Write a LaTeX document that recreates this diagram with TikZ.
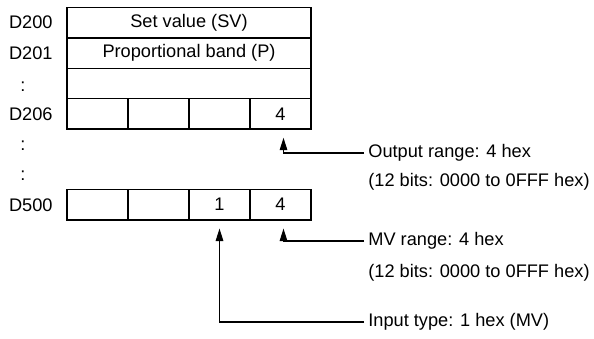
\documentclass[tikz,border=0pt]{standalone}
\usepackage{fontspec}
\setmainfont{Liberation Sans}
\usetikzlibrary{arrows.meta}
\begin{document}
\begin{tikzpicture}[x=0.5pt,y=0.5pt,font=\fontsize{9.1pt}{11pt}\selectfont,every node/.style={inner sep=2pt},
wide/.style={draw,line width=0.7pt,minimum width=122pt,minimum height=15.2pt,inner sep=0pt},
cell/.style={draw,line width=0.7pt,minimum width=30.5pt,minimum height=15.2pt,inner sep=0pt},
lbl/.style={anchor=east},txt/.style={anchor=west},
arr/.style={-{Triangle[length=6.2pt,width=3.8pt]},line width=0.55pt}]
\useasboundingbox (0,0) rectangle (594,338);
\node[wide] (sv) at (189,315.3) {Set value (SV)}; \node[wide] (pb) at (189,284.9) {Proportional band (P)}; \node[wide] (em) at (189,254.5) {};
\node[cell] (c1) at (97.5,224.1) {}; \node[cell] (c2) at (158.5,224.1) {}; \node[cell] (c3) at (219.5,224.1) {}; \node[cell] (c4) at (280.5,224.1) {4};
\node[cell] (e1) at (97.5,133.3) {}; \node[cell] (e2) at (158.5,133.3) {}; \node[cell] (e3) at (219.5,133.3) {1}; \node[cell] (e4) at (280.5,133.3) {4};
\node[lbl] (l200) at (57,316) {D200}; \node[lbl] (l201) at (57,285) {D201}; \node (d1) at (23,251) {:}; \node[lbl] (l206) at (57,224) {D206};
\node (d2) at (23,192) {:}; \node (d3) at (23,162) {:}; \node[lbl] (l500) at (57,133) {D500};
\node[txt] (outa) at (364,185) {Output range: 4 hex}; \node[txt] (outb) at (364,156) {(12 bits: 0000 to 0FFF hex)};
\node[txt] (mva) at (364,97) {MV range: 4 hex}; \node[txt] (mvb) at (364,65) {(12 bits: 0000 to 0FFF hex)};
\node[txt] (inp) at (364,16) {Input type: 1 hex (MV)};
\draw[arr] (outa.west) -| ([xshift=1.5pt,yshift=-4pt]c4.south);
\draw[arr] (mva.west) -| ([xshift=1.5pt,yshift=-4pt]e4.south);
\draw[arr] (inp.west) -| ([yshift=-4pt]e3.south);
\end{tikzpicture}
\end{document}
